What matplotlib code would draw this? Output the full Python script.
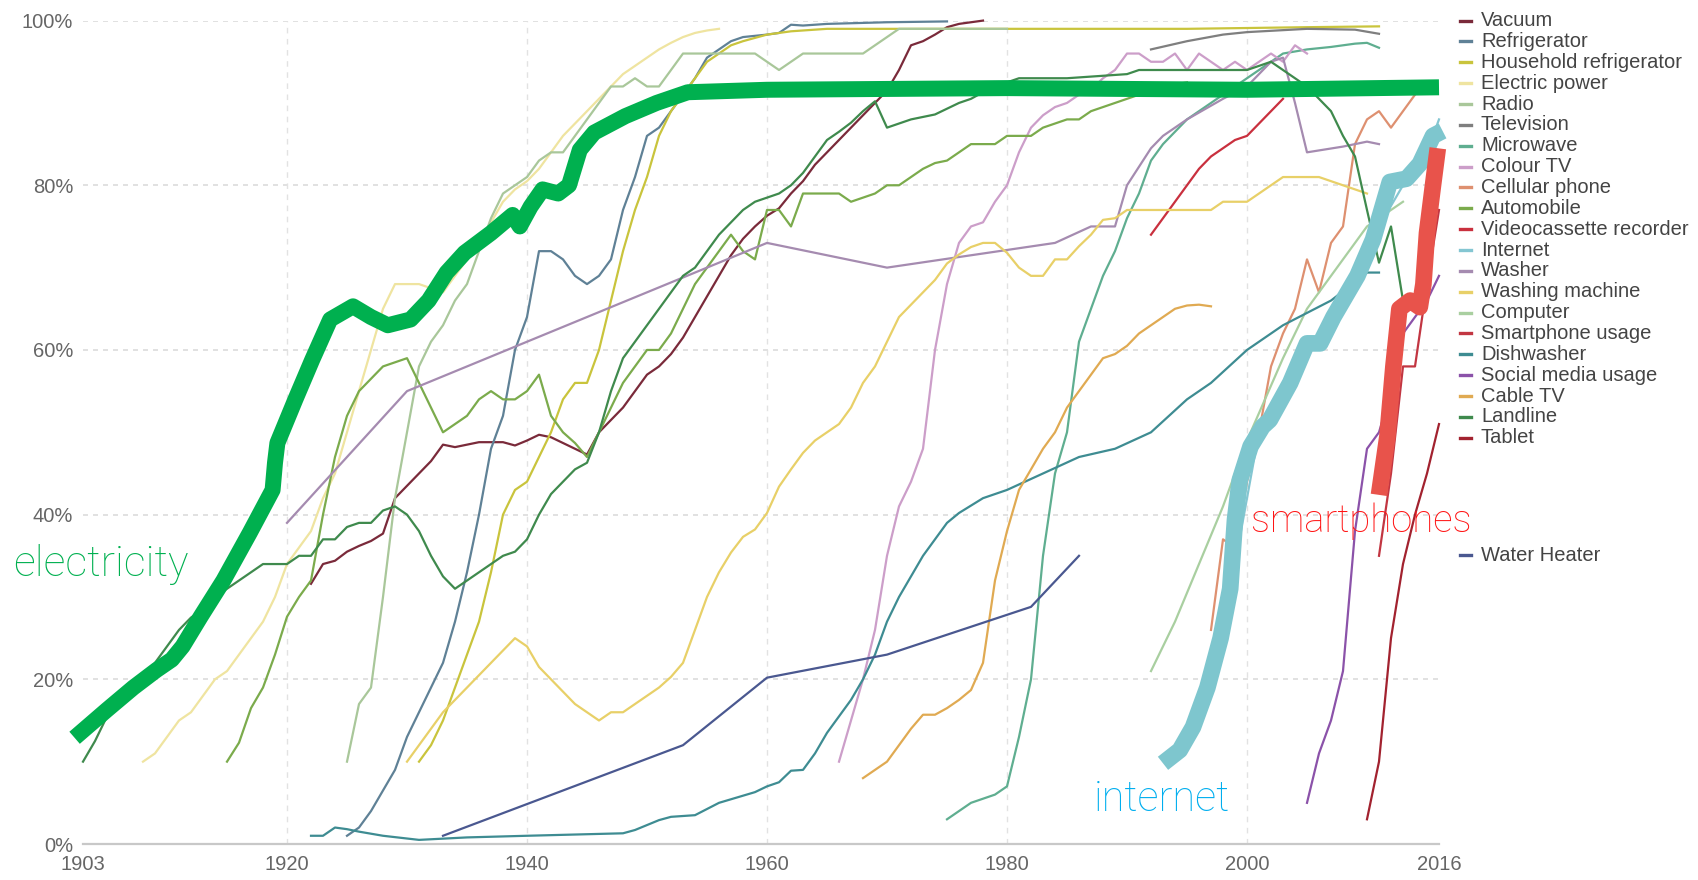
import matplotlib.pyplot as plt
from matplotlib.lines import Line2D

# ---- data (share of US households, %) ----
vacuum_years = [1922, 1923, 1924, 1925, 1926, 1927, 1928, 1929, 1930, 1931, 1932, 1933, 1934, 1935,
                1936, 1937, 1938, 1939, 1940, 1941, 1942, 1943, 1944, 1945, 1946, 1947, 1948, 1949,
                1950, 1951, 1952, 1953, 1954, 1955, 1956, 1957, 1958, 1959, 1960, 1961, 1962, 1963,
                1964, 1965, 1966, 1967, 1968, 1969, 1970, 1971, 1972, 1973, 1974, 1975, 1976, 1977, 1978]
vacuum_vals = [31.6, 34, 34.4, 35.5, 36.2, 36.8, 37.7, 42, 43.5, 45, 46.5, 48.5, 48.2, 48.5,
               48.8, 48.8, 48.8, 48.4, 49, 49.7, 49.4, 48.7, 48, 47.3, 50, 51.5, 53, 55,
               57, 58, 59.5, 61.5, 64, 66.5, 69, 71.5, 73.5, 75, 76.3, 77.2, 79, 80.5,
               82.5, 84, 85.5, 87, 88.5, 90, 91.5, 94, 97, 97.5, 98.3, 99.2, 99.6, 99.8, 100]

fridge_years = [1925, 1926, 1927, 1928, 1929, 1930, 1931, 1932, 1933, 1934, 1935, 1936, 1937, 1938,
                1939, 1940, 1941, 1942, 1943, 1944, 1945, 1946, 1947, 1948, 1949, 1950, 1951, 1952,
                1953, 1954, 1955, 1956, 1957, 1958, 1960, 1961, 1962, 1963, 1965, 1970, 1975]
fridge_vals = [1, 2, 4, 6.5, 9, 13, 16, 19, 22, 27, 33, 40, 48, 52,
               60, 64, 72, 72, 71, 69, 68, 69, 71, 77, 81, 86, 87, 89,
               91, 93, 95.5, 96.5, 97.5, 98, 98.3, 98.5, 99.5, 99.4, 99.6, 99.8, 99.9]

hh_fridge_years = [1931, 1932, 1933, 1934, 1935, 1936, 1937, 1938, 1939, 1940, 1941, 1942, 1943, 1944,
                   1945, 1946, 1947, 1948, 1949, 1950, 1951, 1952, 1953, 1954, 1955, 1956, 1957, 1958,
                   1960, 1962, 1965, 1980, 1995, 2005, 2011]
hh_fridge_vals = [10, 12, 15, 19, 23, 27, 33, 40, 43, 44, 47, 50, 54, 56,
                  56, 60, 66, 72, 77, 81, 86, 89, 91, 93, 95, 96, 97, 97.5,
                  98.3, 98.7, 99, 99, 99, 99.2, 99.3]

power_years = [1908, 1909, 1910, 1911, 1912, 1913, 1914, 1915, 1916, 1917, 1918, 1919, 1920, 1921,
               1922, 1923, 1924, 1925, 1926, 1927, 1928, 1929, 1930, 1931, 1932, 1933, 1934, 1935,
               1936, 1937, 1938, 1939, 1940, 1941, 1942, 1943, 1944, 1945, 1946, 1947, 1948, 1949,
               1950, 1951, 1952, 1953, 1954, 1955, 1956]
power_vals = [10, 11, 13, 15, 16, 18, 20, 21, 23, 25, 27, 30, 34, 36,
              38, 42, 45, 50, 55, 60, 65, 68, 68, 68, 67.5, 67, 69, 71,
              73, 75.5, 78, 79.5, 80.5, 82, 84, 86, 87.5, 89, 90.5, 92, 93.5, 94.5,
              95.5, 96.5, 97.3, 98, 98.5, 98.8, 99]

radio_years = [1925, 1926, 1927, 1928, 1929, 1930, 1931, 1932, 1933, 1934, 1935, 1936, 1937, 1938,
               1939, 1940, 1941, 1942, 1943, 1944, 1945, 1946, 1947, 1948, 1949, 1950, 1951, 1952,
               1953, 1954, 1959, 1960, 1961, 1962, 1963, 1968, 1969, 1970, 1971, 1980]
radio_vals = [10, 17, 19, 30, 42, 50, 58, 61, 63, 66, 68, 72, 76, 79,
              80, 81, 83, 84, 84, 86, 88, 90, 92, 92, 93, 92, 92, 94,
              96, 96, 96, 95, 94, 95, 96, 96, 97, 98, 99, 99]

tv_years = [1992, 1995, 1998, 2000, 2005, 2009, 2011]
tv_vals = [96.5, 97.5, 98.3, 98.6, 99, 98.9, 98.4]

microwave_years = [1975, 1976, 1977, 1978, 1979, 1980, 1981, 1982, 1983, 1984, 1985, 1986, 1987, 1988,
                   1989, 1990, 1991, 1992, 1993, 1994, 1995, 1996, 1997, 1998, 1999, 2000, 2001, 2002,
                   2003, 2005, 2007, 2009, 2010, 2011]
microwave_vals = [3, 4, 5, 5.5, 6, 7, 13, 20, 35, 45, 50, 61, 65, 69,
                  72, 76, 79, 83, 85, 86.5, 88, 89, 90, 91, 92, 93, 94, 95,
                  96, 96.5, 96.8, 97.2, 97.3, 96.7]

colour_tv_years = [1966, 1967, 1968, 1969, 1970, 1971, 1972, 1973, 1974, 1975, 1976, 1977, 1978, 1979,
                   1980, 1981, 1982, 1983, 1984, 1985, 1986, 1987, 1988, 1989, 1990, 1991, 1992, 1993,
                   1994, 1995, 1996, 1997, 1998, 1999, 2000, 2001, 2002, 2003, 2004, 2005]
colour_tv_vals = [10, 15, 20, 26, 35, 41, 44, 48, 60, 68, 73, 75, 75.5, 78,
                  80, 84, 87, 88.5, 89.5, 90, 91, 91.6, 93, 94, 96, 96, 95, 95,
                  96, 94, 96, 95, 94, 95, 94, 95, 96, 95, 97, 96]

cell_years = [1997, 1998, 1999, 2000, 2001, 2002, 2003, 2004, 2005, 2006, 2007, 2008, 2009, 2010,
              2011, 2012, 2013, 2014]
cell_vals = [26, 37, 36, 44, 50, 58, 62, 65, 71, 67, 73, 75, 85, 88,
             89, 87, 89, 91]

auto_years = [1915, 1916, 1917, 1918, 1919, 1920, 1921, 1922, 1923, 1924, 1925, 1926, 1927, 1928,
              1929, 1930, 1931, 1932, 1933, 1934, 1935, 1936, 1937, 1938, 1939, 1940, 1941, 1942,
              1943, 1944, 1945, 1946, 1947, 1948, 1949, 1950, 1951, 1952, 1953, 1954, 1955, 1956,
              1957, 1958, 1959, 1960, 1961, 1962, 1963, 1964, 1965, 1966, 1967, 1968, 1969, 1970,
              1971, 1972, 1973, 1974, 1975, 1976, 1977, 1978, 1979, 1980, 1981, 1982, 1983, 1984,
              1985, 1986, 1987, 1988, 1989, 1990, 1991, 1992, 1993, 1995]
auto_vals = [10, 12.3, 16.5, 19, 23, 27.6, 30, 32, 40, 47, 52, 55, 56.5, 58,
             58.5, 59, 56, 53, 50, 51, 52, 54, 55, 54, 54, 55, 57, 52,
             50, 48.7, 47, 50, 53, 56, 58, 60, 60, 62, 65, 68, 70, 72,
             74, 72, 71, 77, 77, 75, 79, 79, 79, 79, 78, 78.5, 79, 80,
             80, 81, 82, 82.7, 83, 84, 85, 85, 85, 86, 86, 86, 87, 87.5,
             88, 88, 89, 89.5, 90, 90.5, 91, 91.5, 92, 92.5]

vcr_years = [1992, 1993, 1994, 1995, 1996, 1997, 1998, 1999, 2000, 2001, 2002, 2003]
vcr_vals = [74, 76, 78, 80, 82, 83.5, 84.5, 85.5, 86, 87.5, 89, 90.5]

internet_years = [1997, 1998, 2000, 2001, 2003, 2005, 2007, 2009, 2010, 2011, 2013, 2015, 2016]
internet_vals = [18, 26, 42, 50, 55, 60, 63, 69, 72, 75, 80, 84, 88]

washer_years = [1920, 1930, 1940, 1950, 1960, 1970, 1984, 1987, 1989, 1990, 1992, 1993, 1995, 1998,
                2000, 2002, 2003, 2004, 2005, 2008, 2010, 2011]
washer_vals = [39, 55, 61, 67, 73, 70, 73, 75, 75, 80, 84.5, 86, 88, 90.5,
               92, 95, 95.5, 90, 84, 84.7, 85.3, 85]

washing_years = [1930, 1931, 1932, 1933, 1934, 1935, 1936, 1937, 1938, 1939, 1940, 1941, 1942, 1943,
                 1944, 1945, 1946, 1947, 1948, 1949, 1950, 1951, 1952, 1953, 1954, 1955, 1956, 1957,
                 1958, 1959, 1960, 1961, 1962, 1963, 1964, 1965, 1966, 1967, 1968, 1969, 1970, 1971,
                 1972, 1973, 1974, 1975, 1976, 1977, 1978, 1979, 1980, 1981, 1982, 1983, 1984, 1985,
                 1986, 1987, 1988, 1989, 1990, 1991, 1997, 1998, 2000, 2003, 2006, 2008, 2010]
washing_vals = [10, 12, 14, 16, 17.5, 19, 20.5, 22, 23.5, 25, 24, 21.5, 20, 18.5,
                17, 16, 15, 16, 16, 17, 18, 19, 20.3, 22, 26, 30, 33, 35.4,
                37.3, 38.2, 40.2, 43.4, 45.5, 47.5, 49, 50, 51, 53, 56, 58, 61, 64,
                65.5, 67, 68.5, 70.5, 71.6, 72.5, 73, 73, 71.8, 70, 69, 69, 71, 71,
                72.6, 74, 75.8, 76, 77, 77, 77, 78, 78, 81, 81, 80, 79]

computer_years = [1992, 1994, 1996, 1998, 2000, 2003, 2005, 2007, 2010, 2013]
computer_vals = [21, 27, 34, 41, 49, 59, 65, 69, 75, 78]

smartphone_years = [2011, 2012, 2013, 2014, 2015, 2016]
smartphone_vals = [35, 45, 58, 58, 68, 77]

dishwasher_years = [1922, 1923, 1924, 1925, 1926, 1928, 1931, 1935, 1940, 1948, 1949, 1950, 1951, 1952,
                    1954, 1956, 1959, 1960, 1961, 1962, 1963, 1964, 1965, 1966, 1967, 1968, 1969, 1970,
                    1971, 1972, 1973, 1974, 1975, 1976, 1978, 1980, 1983, 1986, 1989, 1992, 1995, 1997,
                    2000, 2003, 2007, 2010, 2011]
dishwasher_vals = [1, 1, 2, 1.8, 1.5, 1, 0.5, 0.8, 1, 1.3, 1.7, 2.3, 2.9, 3.3,
                   3.5, 5, 6.3, 7, 7.5, 8.9, 9, 11, 13.5, 15.5, 17.5, 20, 23, 27,
                   30, 32.5, 35, 37, 39, 40.2, 42, 43, 45, 47, 48, 50, 54, 56,
                   60, 63, 66, 69.4, 69.4]

social_years = [2005, 2006, 2007, 2008, 2009, 2010, 2011, 2012, 2013, 2014, 2015, 2016]
social_vals = [5, 11, 15, 21, 38, 48, 50, 55, 62, 64, 66, 69]

cable_years = [1968, 1970, 1971, 1972, 1973, 1974, 1975, 1976, 1977, 1978, 1979, 1980, 1981, 1982,
               1983, 1984, 1985, 1986, 1987, 1988, 1989, 1990, 1991, 1992, 1993, 1994, 1995, 1996, 1997]
cable_vals = [8, 10, 12, 14, 15.7, 15.7, 16.5, 17.5, 18.7, 22, 32, 38, 43, 45.5,
              48, 50, 53, 55, 57, 59, 59.5, 60.5, 62, 63, 64, 65, 65.4, 65.5, 65.3]

landline_years = [1903, 1904, 1905, 1906, 1907, 1908, 1909, 1910, 1911, 1912, 1913, 1914, 1915, 1916,
                  1917, 1918, 1919, 1920, 1921, 1922, 1923, 1924, 1925, 1926, 1927, 1928, 1929, 1930,
                  1931, 1932, 1933, 1934, 1935, 1936, 1937, 1938, 1939, 1940, 1941, 1942, 1943, 1944,
                  1945, 1946, 1947, 1948, 1949, 1950, 1951, 1952, 1953, 1954, 1955, 1956, 1957, 1958,
                  1959, 1960, 1961, 1962, 1963, 1964, 1965, 1966, 1967, 1968, 1969, 1970, 1971, 1972,
                  1973, 1974, 1975, 1976, 1977, 1978, 1979, 1980, 1981, 1985, 1990, 1991, 2000, 2002,
                  2003, 2005, 2007, 2008, 2009, 2010, 2011, 2012, 2013]
landline_vals = [10, 12.5, 15.5, 17.5, 19, 20.5, 22, 24, 26, 27.5, 28.5, 30, 31, 32,
                 33, 34, 34, 34, 35, 35, 37, 37, 38.5, 39, 39, 40.5, 41, 40,
                 38, 35, 32.5, 31, 32, 33, 34, 35, 35.5, 37, 40, 42.5, 44, 45.5,
                 46.3, 50, 55, 59, 61, 63, 65, 67, 69, 70, 72, 74, 75.5, 77,
                 78, 78.5, 79, 80, 81.5, 83.5, 85.5, 86.5, 87.6, 89, 90.2, 87, 87.5, 88,
                 88.3, 88.6, 89.3, 90, 90.5, 91.3, 92, 92.5, 93, 93, 93.5, 94, 94, 95,
                 94, 92, 89, 86, 83.5, 77, 70.6, 75, 66]

tablet_years = [2010, 2011, 2012, 2013, 2014, 2015, 2016]
tablet_vals = [3, 10, 25, 34, 40, 45, 51]

heater_years = [1933, 1953, 1960, 1970, 1982, 1986]
heater_vals = [1, 12, 20.2, 23, 28.8, 35]

# hand-drawn highlight strokes
elec_years = [1902.3, 1905, 1907.2, 1909.1, 1910.4, 1911.3, 1912.8, 1914.7, 1916.9, 1918.8, 1919.0,
              1919.2, 1920.7, 1922.1, 1923.6, 1925.5, 1927, 1928.4, 1930.3, 1931.8, 1933.3, 1934.8,
              1937, 1938.8, 1939.4, 1940.3, 1941.3, 1942.6, 1943.5, 1944.4, 1945.6, 1948.2, 1950.8,
              1953.4, 1960, 1980, 2000, 2016]
elec_vals = [12.9, 16.3, 19, 21.1, 22.4, 24, 27.6, 32, 37.8, 43, 46.3,
             48.7, 54, 58.8, 63.7, 65.3, 64, 63, 63.7, 66, 69.4, 71.8,
             74.2, 76.4, 75, 77.4, 79.5, 79, 80, 84.3, 86.4, 88.4, 90,
             91.3, 91.6, 91.8, 91.6, 91.9]

net_years = [1993, 1994.4, 1995.5, 1996.7, 1997.8, 1998.6, 1999, 1999.4, 2000.3, 2001.3, 2001.9,
             2003.6, 2005, 2006.1, 2007.2, 2009.2, 2010.5, 2011.3, 2011.9, 2013.3, 2014.4, 2015.5, 2016.3]
net_vals = [9.8, 11.4, 14.2, 19, 25, 31, 39.4, 44.2, 48.3, 50.7, 51.5,
            56, 60.8, 60.8, 64, 69, 73.4, 77.4, 80.4, 80.8, 82.6, 86, 86.6]

phone_years = [2011, 2011.7, 2012.2, 2012.7, 2013.6, 2014.4, 2014.7, 2015, 2015.5, 2015.9]
phone_vals = [42.4, 49.5, 58, 65, 66, 65.2, 68, 74.2, 80, 84.5]

series = [
    ('Vacuum', vacuum_years, vacuum_vals, '#7a2a3a'),
    ('Refrigerator', fridge_years, fridge_vals, '#5f8196'),
    ('Household refrigerator', hh_fridge_years, hh_fridge_vals, '#c9c43c'),
    ('Electric power', power_years, power_vals, '#efe4a0'),
    ('Radio', radio_years, radio_vals, '#a9c79a'),
    ('Television', tv_years, tv_vals, '#7f7f7f'),
    ('Microwave', microwave_years, microwave_vals, '#5fae90'),
    ('Colour TV', colour_tv_years, colour_tv_vals, '#cc9ec9'),
    ('Cellular phone', cell_years, cell_vals, '#de9070'),
    ('Automobile', auto_years, auto_vals, '#7bab4c'),
    ('Videocassette recorder', vcr_years, vcr_vals, '#c9303e'),
    ('Internet', internet_years, internet_vals, '#84c6d2'),
    ('Washer', washer_years, washer_vals, '#a58bb0'),
    ('Washing machine', washing_years, washing_vals, '#e8d068'),
    ('Computer', computer_years, computer_vals, '#a9cfa0'),
    ('Smartphone usage', smartphone_years, smartphone_vals, '#c23642'),
    ('Dishwasher', dishwasher_years, dishwasher_vals, '#3e8c92'),
    ('Social media usage', social_years, social_vals, '#8b52a9'),
    ('Cable TV', cable_years, cable_vals, '#e0aa52'),
    ('Landline', landline_years, landline_vals, '#3f8a4d'),
    ('Tablet', tablet_years, tablet_vals, '#a2222f'),
]
heater = ('Water Heater', heater_years, heater_vals, '#4a5890')

x_ticks = [1903, 1920, 1940, 1960, 1980, 2000, 2016]
y_ticks = [0, 20, 40, 60, 80, 100]

W, H = 1699, 880
plt.rcParams['font.family'] = ['Liberation Sans', 'DejaVu Sans']
fig = plt.figure(figsize=(W / 100, H / 100), dpi=100)
ax = fig.add_axes([83 / W, 1 - 844 / H, 1356 / W, 823.4 / H])

for name, xs, ys, c in series + [heater]:
    ax.plot(xs, ys, color=c, lw=1.6, zorder=3, clip_on=False, solid_joinstyle='round')

# highlight strokes
stroke = dict(solid_capstyle='butt', solid_joinstyle='round', clip_on=False, zorder=5)
ax.plot(elec_years, elec_vals, color='#00b04f', lw=11.5, **stroke)
ax.plot(net_years, net_vals, color='#7ec6ce', lw=12, **stroke)
ax.plot(phone_years, phone_vals, color='#e8534b', lw=12, **stroke)

note = dict(fontweight='light', family=['Roboto', 'DejaVu Sans'], va='center',
            ha='left', zorder=6, clip_on=False)
ax.text(1897.2, 33.9, 'electricity', color='#00b050', fontsize=31, **note)
ax.text(1987.2, 5.4, 'internet', color='#00aeef', fontsize=30, **note)
ax.text(2000.3, 39.2, 'smartphones', color='#ff1414', fontsize=27.5, **note)

ax.set_xlim(1903, 2016)
ax.set_ylim(0, 100)
ax.set_xticks(x_ticks)
ax.set_xticklabels([str(t) for t in x_ticks])
ax.set_yticks(y_ticks)
ax.set_yticklabels([f'{t}%' for t in y_ticks])
ax.tick_params(length=0, labelsize=14.5, colors='#666666')
ax.tick_params(axis='x', pad=8)
ax.tick_params(axis='y', pad=7)

for v in [20, 40, 60, 80, 100]:
    ax.axhline(v, color='#dcdcdc', lw=1.2, ls=(0, (3, 3)), zorder=1)
for v in [1920, 1940, 1960, 1980, 2000]:
    ax.axvline(v, color='#e2e2e2', lw=1.0, ls=(0, (4, 4)), zorder=1)

for s in ['top', 'right', 'left']:
    ax.spines[s].set_visible(False)
ax.spines['bottom'].set_color('#c8c8c8')
ax.spines['bottom'].set_linewidth(1.6)

# legend, drawn by hand to match the tight row spacing
for i, (name, xs, ys, c) in enumerate(series):
    yy = 1 - (20.6 + i * 20.86) / H
    fig.add_artist(Line2D([1460 / W, 1471 / W], [yy, yy], color=c, lw=2.4))
    fig.text(1481 / W, yy, name, fontsize=14.5, color='#444444', va='center', ha='left')
yy = 1 - 555 / H
fig.add_artist(Line2D([1460 / W, 1471 / W], [yy, yy], color=heater[3], lw=2.4))
fig.text(1481 / W, yy, heater[0], fontsize=14.5, color='#444444', va='center', ha='left')

fig.savefig('out.png', dpi=100, facecolor='white')
